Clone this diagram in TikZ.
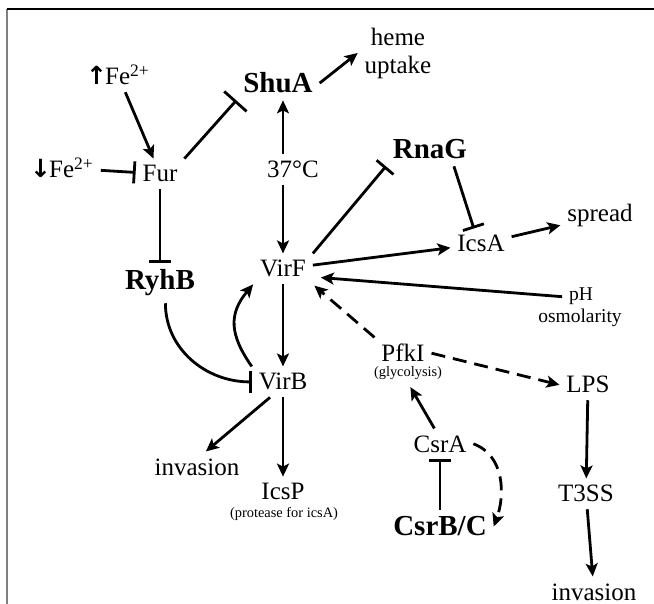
\documentclass[tikz,border=0pt]{standalone}
\usepackage{fontspec}
\setmainfont{Liberation Serif}
\newfontfamily\arrowfont{DejaVu Sans}
\usetikzlibrary{arrows.meta}

\tikzset{
  lab/.style={inner sep=2pt, outer sep=1.5pt, anchor=base, font=\fontsize{12.5}{14}\selectfont},
  key/.style={lab, font=\fontsize{14.5}{16}\selectfont\bfseries},
  note/.style={lab, font=\fontsize{9.75}{11}\selectfont},
  sub/.style={lab, font=\fontsize{7.2}{8}\selectfont},
  act/.style={-{Stealth[length=6.5pt,width=6pt,inset=1.5pt]}},
  inhib/.style={-{Bar[width=11pt]}},
  weak/.style={act, dash pattern=on 7pt off 4pt},
}

\begin{document}
\begin{tikzpicture}[x=0.5pt, y=-0.5pt, line width=1.4pt]
  \useasboundingbox (0,0) rectangle (654,604);
  \draw[gray, line width=0.8pt] (7,604) -- (7,9);
  \draw[line width=0.8pt] (7,9) -- (654,9);

  \node[lab] (feup) at (118,85) {{\arrowfont\bfseries ↑}\kern-1pt Fe\textsuperscript{2+}};
  \node[lab] (fedown) at (62,178) {{\arrowfont\bfseries ↓}\kern-1pt Fe\textsuperscript{2+}};
  \node[lab] (fur) at (160,182) {Fur};
  \node[key] (shua) at (278,93) {ShuA};
  \node[lab, anchor=center, align=center] (heme) at (398,53) {heme\\uptake};
  \node[lab] (temp) at (293,178) {37°C};
  \node[key] (rnag) at (430,159) {RnaG};
  \node[key] (ryhb) at (160,290) {RyhB};
  \node[lab] (virf) at (283,277) {VirF};
  \node[lab] (icsa) at (481,252) {IcsA};
  \node[lab] (spread) at (600,222) {spread};
  \node[note] (ph) at (581,301) {pH};
  \node[note] (osm) at (580,323) {osmolarity};
  \node[lab] (pfk) at (403,362) {PfkI};
  \node[sub] (glyc) at (408,377) {(glycolysis)};
  \node[lab] (lps) at (588,393) {LPS};
  \node[lab] (virb) at (283,390) {VirB};
  \node[lab] (csra) at (440,452) {CsrA};
  \node[key] (csrbc) at (440,536) {CsrB/C};
  \node[lab] (inv1) at (197,475) {invasion};
  \node[lab] (icsp) at (283,500) {IcsP};
  \node[sub] (prot) at (284,517) {(protease for icsA)};
  \node[lab] (t3ss) at (586,502) {T3SS};
  \node[lab] (inv2) at (594,600) {invasion};

  \draw[act] (feup) -- (fur);
  \draw[inhib] (fedown) -- (fur);
  \draw[-{Bar[width=15pt]}] (fur.north east) -- (shua.south west);
  \draw[act] (shua.east) -- (heme.west);
  \draw[act] (temp.north -| virf) -- (shua.south -| virf);
  \draw[act] (temp.south -| virf) -- (virf);
  \draw[inhib] (fur) -- (ryhb);
  \draw[inhib] (virf.north east) -- (rnag.south west);
  \draw[inhib] (rnag.-35) -- (icsa.115);
  \draw[act] (virf) -- (icsa);
  \draw[act] (icsa) -- (spread);
  \draw[act, shorten >=4pt] (ph.west) -- (virf.-15);
  \draw[weak, shorten >=1pt] (pfk.north west) -- (virf.south east);
  \draw[weak] (pfk.east) -- (lps.west);
  \draw[act] (csra.110) -- (glyc.-80);
  \draw[inhib] (csrbc) -- (csra);
  \draw[weak] (csra.east) to[out=-20, in=70] (csrbc.east);
  \draw[act] (lps) -- (t3ss);
  \draw[act] (t3ss) -- (inv2);
  \draw[act] (virf) -- (virb);
  \draw[act] (virb.north west) to[out=125, in=230, looseness=1.2] (virf.south west);
  \draw[inhib] (ryhb.-75) to[out=-90, in=180] (virb.west);
  \draw[act] (virb.-130) -- (inv1.60);
  \draw[act] (virb) -- (icsp);
\end{tikzpicture}
\end{document}
